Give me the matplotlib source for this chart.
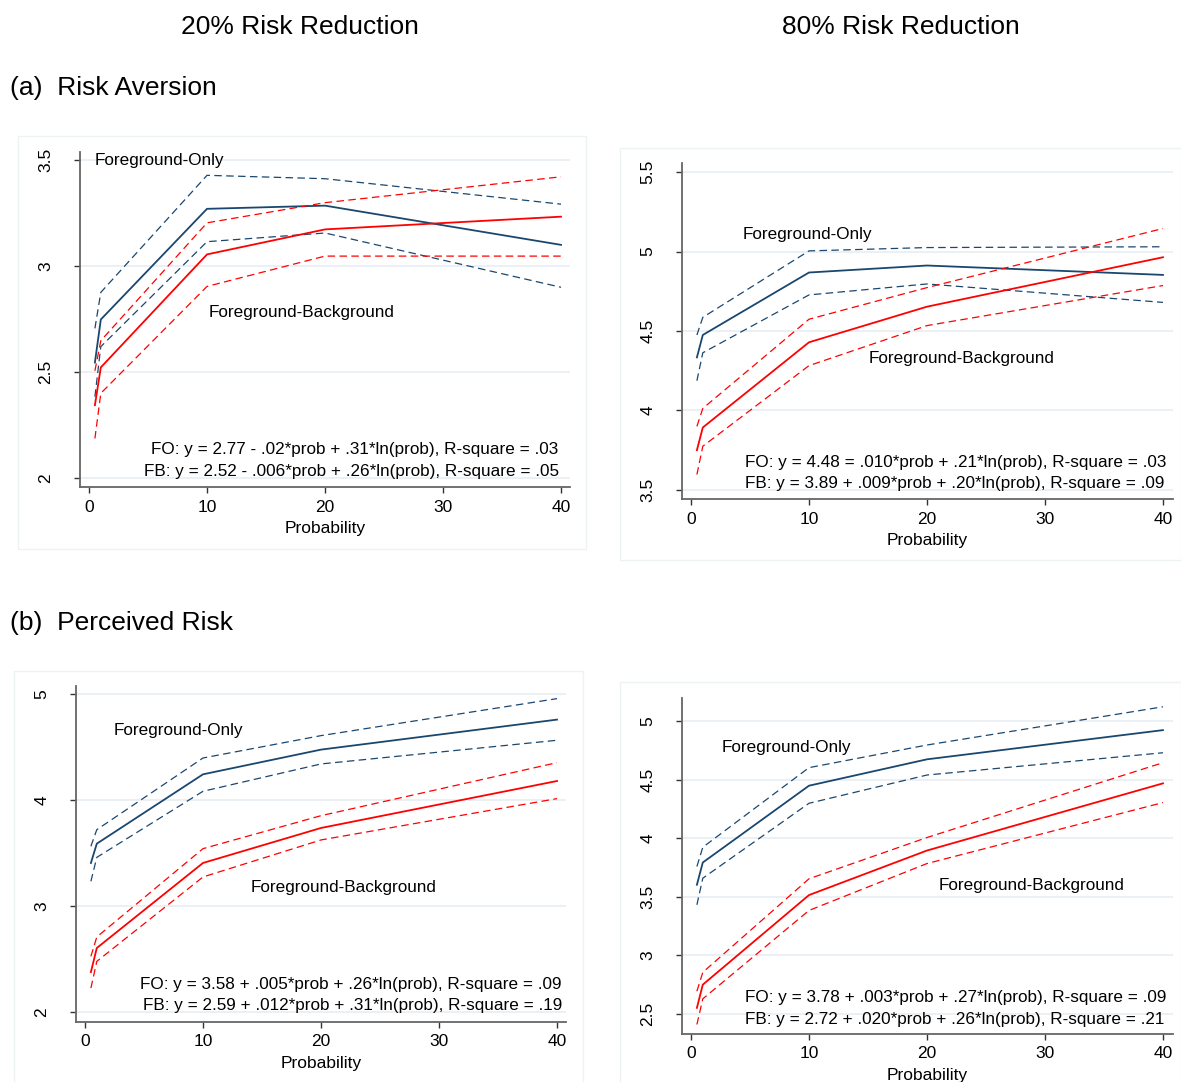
import matplotlib.pyplot as plt
from matplotlib.patches import Rectangle

plt.rcParams['font.family'] = ['Liberation Sans', 'DejaVu Sans']

W, H = 1181, 1082

prob = [0.5, 1, 10, 20, 40]

# (a) risk aversion, 20% reduction
ra20_fo = [2.545, 2.748, 3.27, 3.285, 3.10]
ra20_fo_hi = [2.706, 2.876, 3.428, 3.412, 3.292]
ra20_fo_lo = [2.384, 2.62, 3.115, 3.156, 2.90]
ra20_fb = [2.344, 2.522, 3.055, 3.173, 3.233]
ra20_fb_hi = [2.506, 2.648, 3.204, 3.299, 3.421]
ra20_fb_lo = [2.187, 2.40, 2.904, 3.047, 3.047]

# (a) risk aversion, 80% reduction
ra80_fo = [4.334, 4.475, 4.868, 4.912, 4.853]
ra80_fo_hi = [4.475, 4.586, 5.004, 5.025, 5.03]
ra80_fo_lo = [4.187, 4.363, 4.727, 4.796, 4.68]
ra80_fb = [3.75, 3.893, 4.429, 4.653, 4.964]
ra80_fb_hi = [3.90, 4.013, 4.574, 4.773, 5.145]
ra80_fb_lo = [3.597, 3.775, 4.282, 4.534, 4.786]

# (b) perceived risk, 20% reduction
pr20_fo = [3.406, 3.588, 4.242, 4.475, 4.758]
pr20_fo_hi = [3.563, 3.72, 4.396, 4.607, 4.956]
pr20_fo_lo = [3.233, 3.459, 4.082, 4.34, 4.563]
pr20_fb = [2.377, 2.604, 3.406, 3.736, 4.179]
pr20_fb_hi = [2.525, 2.708, 3.541, 3.852, 4.352]
pr20_fb_lo = [2.226, 2.478, 3.274, 3.623, 4.013]

# (b) perceived risk, 80% reduction
pr80_fo = [3.603, 3.793, 4.448, 4.673, 4.922]
pr80_fo_hi = [3.759, 3.923, 4.602, 4.795, 5.121]
pr80_fo_lo = [3.432, 3.659, 4.298, 4.539, 4.729]
pr80_fb = [2.553, 2.751, 3.515, 3.895, 4.468]
pr80_fb_hi = [2.695, 2.856, 3.654, 4.006, 4.644]
pr80_fb_lo = [2.411, 2.63, 3.384, 3.784, 4.304]

eq_ra20 = ["FO: y = 2.77 - .02*prob + .31*ln(prob), R-square = .03",
           "FB: y = 2.52 - .006*prob + .26*ln(prob), R-square = .05"]
eq_ra80 = ["FO: y = 4.48 = .010*prob + .21*ln(prob), R-square = .03",
           "FB: y = 3.89 + .009*prob + .20*ln(prob), R-square = .09"]
eq_pr20 = ["FO: y = 3.58 + .005*prob + .26*ln(prob), R-square = .09",
           "FB: y = 2.59 + .012*prob + .31*ln(prob), R-square = .19"]
eq_pr80 = ["FO: y = 3.78 + .003*prob + .27*ln(prob), R-square = .09",
           "FB: y = 2.72 + .020*prob + .26*ln(prob), R-square = .21"]

NAVY = "#1a476f"
RED = "#ff0000"

fig = plt.figure(figsize=(W / 100, H / 100), dpi=100)


def px_axes(l, t, r, b):
    return fig.add_axes([l / W, 1 - b / H, (r - l) / W, (b - t) / H])


# faint graph-region outlines
for (l, t, r, b) in [(18, 136, 586, 549), (620, 148, 1181, 560),
                     (14, 671, 583, 1090), (620, 682, 1181, 1090)]:
    fig.patches.append(Rectangle((l / W, 1 - b / H), (r - l) / W, (b - t) / H,
                                 transform=fig.transFigure, fill=False,
                                 ec="#edf2f4", lw=1.0))


def panel(box, xlim, ylim, yticks, ylabels, fo, fo_hi, fo_lo, fb, fb_hi, fb_lo,
          fo_pos, fb_pos, eqs, eq_x, eq_y, eq_ha):
    ax = px_axes(*box)
    ax.set_xlim(*xlim)
    ax.set_ylim(*ylim)
    for s in ["top", "right"]:
        ax.spines[s].set_visible(False)
    for s in ["left", "bottom"]:
        ax.spines[s].set_color("#666666")
        ax.spines[s].set_linewidth(1.3)
    ax.set_yticks(yticks)
    ax.set_yticklabels(ylabels, rotation=90, va="center")
    ax.set_xticks([0, 10, 20, 30, 40])
    ax.tick_params(axis="both", labelsize=12.5, length=4, width=1, color="#333333")
    ax.tick_params(axis="y", pad=15)
    ax.tick_params(axis="x", pad=5)
    ax.grid(axis="y", color="#e6eef1", lw=1.2)
    ax.set_axisbelow(True)
    ax.set_xlabel("Probability", fontsize=12.5, labelpad=5)

    ax.plot(prob, fo, color=NAVY, lw=1.3)
    ax.plot(prob, fo_hi, color=NAVY, lw=0.9, dashes=(6, 3.5))
    ax.plot(prob, fo_lo, color=NAVY, lw=0.9, dashes=(6, 3.5))
    ax.plot(prob, fb, color=RED, lw=1.3)
    ax.plot(prob, fb_hi, color=RED, lw=0.9, dashes=(6, 3.5))
    ax.plot(prob, fb_lo, color=RED, lw=0.9, dashes=(6, 3.5))

    ax.text(fo_pos[0], fo_pos[1], "Foreground-Only", fontsize=12.3, va="center", ha="left")
    ax.text(fb_pos[0], fb_pos[1], "Foreground-Background", fontsize=12.3, va="center", ha="left")
    ax.text(eq_x, eq_y[0], eqs[0], fontsize=12.3, va="center", ha=eq_ha)
    ax.text(eq_x, eq_y[1], eqs[1], fontsize=12.3, va="center", ha=eq_ha)
    return ax


panel((80, 152, 570, 487), (-0.763, 40.76), (1.958, 3.538),
      [2, 2.5, 3, 3.5], ["2", "2.5", "3", "3.5"],
      ra20_fo, ra20_fo_hi, ra20_fo_lo, ra20_fb, ra20_fb_hi, ra20_fb_lo,
      (0.5, 3.5), (10.1, 2.783), eq_ra20, 39.8, (2.137, 2.033), "right")

panel((682, 163, 1173, 499), (-0.763, 40.85), (3.443, 5.557),
      [3.5, 4, 4.5, 5, 5.5], ["3.5", "4", "4.5", "5", "5.5"],
      ra80_fo, ra80_fo_hi, ra80_fo_lo, ra80_fb, ra80_fb_hi, ra80_fb_lo,
      (4.41, 5.104), (15.08, 4.324), eq_ra80, 4.58, (3.67, 3.538), "left")

panel((76, 686, 566, 1022), (-0.763, 40.76), (1.906, 5.075),
      [2, 3, 4, 5], ["2", "3", "4", "5"],
      pr20_fo, pr20_fo_hi, pr20_fo_lo, pr20_fb, pr20_fb_hi, pr20_fb_lo,
      (2.46, 4.651), (14.07, 3.17), eq_pr20, 40.4, (2.264, 2.066), "right")

panel((682, 698, 1173, 1034), (-0.763, 40.85), (2.33, 5.196),
      [2.5, 3, 3.5, 4, 4.5, 5], ["2.5", "3", "3.5", "4", "4.5", "5"],
      pr80_fo, pr80_fo_hi, pr80_fo_lo, pr80_fb, pr80_fb_hi, pr80_fb_lo,
      (2.63, 4.778), (21.02, 3.60), eq_pr80, 4.58, (2.645, 2.457), "left")

fig.text(300 / W, 1 - 27 / H, "20% Risk Reduction", fontsize=19, ha="center", va="center")
fig.text(901 / W, 1 - 27 / H, "80% Risk Reduction", fontsize=19, ha="center", va="center")
fig.text(10 / W, 1 - 88 / H, "(a)  Risk Aversion", fontsize=19, ha="left", va="center")
fig.text(10 / W, 1 - 623 / H, "(b)  Perceived Risk", fontsize=19, ha="left", va="center")

fig.savefig("out.png", dpi=100, facecolor="white")
